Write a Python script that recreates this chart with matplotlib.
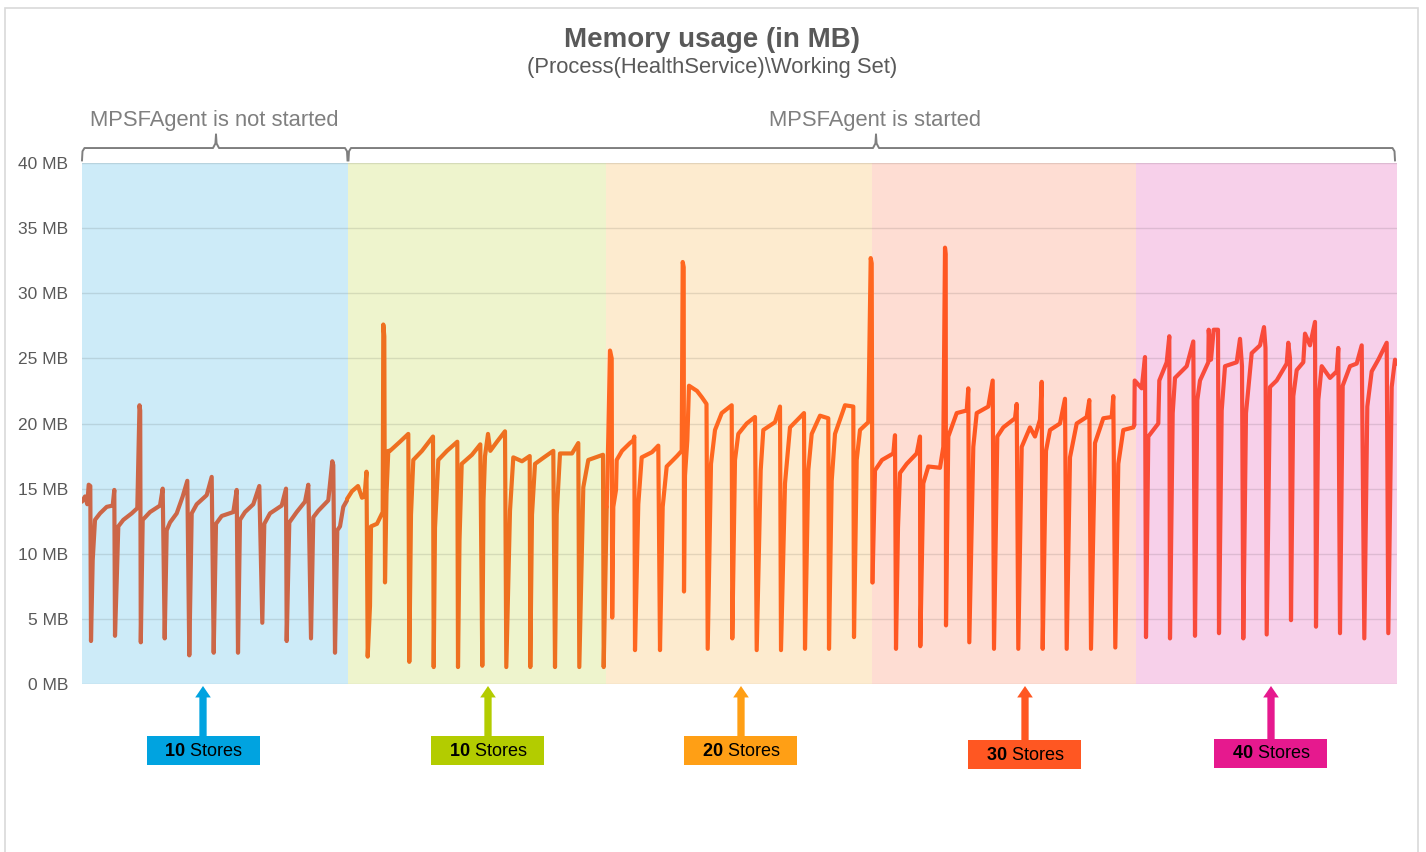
import matplotlib
matplotlib.use("Agg")
import matplotlib.pyplot as plt
from matplotlib.patches import Rectangle
from matplotlib.transforms import blended_transform_factory

plt.rcParams["font.family"] = ["Liberation Sans", "DejaVu Sans"]
plt.rcParams["mathtext.fontset"] = "custom"
plt.rcParams["mathtext.bf"] = "Liberation Sans:bold"
plt.rcParams["mathtext.rm"] = "Liberation Sans"

# sample index along the run, working set in MB, one pair of lists per phase
blue_t = [
    0, 3, 5.3, 6.7, 8.3,
    9, 10.7, 13, 18, 24.7, 30.7, 32.3,
    33, 34.7, 36.3, 41.3, 49.7, 55.3, 57.5, 58.2,
    58.8, 60.7, 68, 78, 80.7,
    82.7, 84.7, 88, 94.7, 100.7, 105.3,
    107.3, 109.7, 114.7, 124.7, 129.7,
    131.7, 134, 139.7, 151.3, 154.7,
    156, 158, 163, 171.3, 177.3,
    180.3, 182.3, 188, 199.7, 204,
    204.7, 207.3, 214.7, 223, 226.3,
    229, 231.3, 236.3, 246.3, 250.3, 251.3,
    253, 255.3, 258, 261.3, 265,
]
blue_mb = [
    14.0, 14.4, 13.8, 15.3, 15.2,
    3.3, 9.5, 12.6, 13.1, 13.6, 13.7, 14.9,
    3.7, 7.9, 12.1, 12.6, 13.1, 13.5, 21.4, 21.0,
    3.2, 12.6, 13.2, 13.7, 15.0,
    3.5, 11.8, 12.4, 13.1, 14.4, 15.6,
    2.2, 13.1, 13.8, 14.5, 15.9,
    2.4, 12.3, 12.9, 13.2, 14.9,
    2.4, 12.6, 13.2, 13.8, 15.2,
    4.7, 12.3, 13.1, 13.7, 15.0,
    3.3, 12.4, 13.2, 14.0, 15.3,
    3.5, 12.8, 13.3, 14.1, 17.1, 16.8,
    2.4, 11.8, 12.1, 13.6, 14.1,
]

green_t = [
    265, 270, 276, 280, 282.5, 284.5,
    285.7, 288, 289, 295, 300.7, 301.3, 302.3,
    303, 304.5, 306.3, 308, 318, 326.3,
    327.3, 329, 331.3, 340, 351,
    351.7, 353, 356.3, 365, 375.3,
    376, 377.5, 379.7, 390, 398.3,
    400.3, 401.5, 403, 406, 408.3, 415, 423,
    424.3, 428, 431.3, 440, 447.7,
    448.3, 450, 453, 462, 471.3,
    473, 474.7, 478, 490, 496.3,
    497.3, 501.3, 506.3, 521,
    521.7, 524.7,
]
green_mb = [
    14.2, 14.8, 15.2, 14.3, 14.4, 16.3,
    2.1, 6.0, 12.1, 12.3, 13.2, 27.6, 26.7,
    7.8, 14.6, 17.9, 17.9, 18.6, 19.2,
    1.7, 13.0, 17.2, 17.9, 19.0,
    1.3, 12.0, 17.2, 17.9, 18.6,
    1.3, 11.0, 16.9, 17.6, 18.4,
    1.4, 14.1, 17.5, 19.2, 17.9, 18.6, 19.4,
    1.3, 13.3, 17.4, 17.1, 17.5,
    1.3, 13.0, 16.9, 17.4, 17.9,
    1.3, 13.0, 17.7, 17.7, 18.5,
    1.3, 15.1, 17.2, 17.6,
    1.3, 13.6,
]

peach_t = [
    524.7, 526.3, 528, 529.7,
    530.2, 531.3, 534, 534.7, 540, 548, 551.3, 552.3,
    553, 556.3, 559.7, 570, 576.3,
    578, 580.7, 584.7, 595, 599.7, 600.7, 601.7,
    602, 603, 605.3, 607, 615, 620, 624.5,
    625.7, 629, 633, 639.7, 649.7,
    650.3, 653, 656.3, 664.7, 673,
    674.7, 678.7, 681.3, 693, 698,
    699, 703, 708, 722,
    723, 726.3, 729.7, 738, 746.3,
    747, 749.7, 753, 763, 771.3,
    772, 774.7, 778, 786.3, 788.7, 789.7,
    790.5,
]
peach_mb = [
    13.6, 19.0, 25.6, 25.0,
    5.1, 13.6, 14.9, 17.2, 17.9, 18.5, 18.7, 19.0,
    2.6, 13.8, 17.4, 17.8, 18.3,
    2.6, 13.6, 16.7, 17.5, 17.9, 32.4, 32.0,
    7.1, 16.0, 18.7, 22.9, 22.5, 22.0, 21.5,
    2.7, 16.9, 19.5, 20.8, 21.4,
    3.5, 17.2, 19.2, 20.0, 20.5,
    2.6, 16.4, 19.5, 20.1, 21.3,
    2.6, 15.4, 19.7, 20.8,
    2.7, 16.4, 19.2, 20.6, 20.4,
    2.7, 15.6, 19.2, 21.4, 21.3,
    3.6, 17.2, 19.5, 20.1, 32.7, 32.3,
    7.8,
]

salmon_t = [
    790.5, 793, 800, 811.3, 813,
    814, 816, 818, 824.7, 834.7, 838,
    838.3, 841.3, 846.3, 858, 861.3, 863, 863.7,
    864, 866.3, 874.7, 884.7, 886.3,
    887.3, 891.3, 894.7, 906.3, 910.7,
    912, 915.3, 921.3, 933, 934.7,
    936.3, 939.7, 948, 953, 958, 959.7,
    960.7, 964, 968, 978, 983,
    984.7, 988, 994.7, 1004.7, 1007.3,
    1009, 1013, 1021.3, 1029.7, 1031.3,
    1033.3, 1036.3, 1041.3, 1051.3, 1052.3,
]
salmon_mb = [
    7.8, 16.4, 17.2, 17.7, 19.1,
    2.7, 12.0, 16.2, 16.9, 17.7, 19.0,
    2.9, 15.4, 16.7, 16.6, 18.2, 33.5, 33.0,
    4.5, 19.0, 20.8, 21.0, 22.7,
    3.2, 18.2, 20.8, 21.3, 23.3,
    2.7, 19.0, 19.7, 20.4, 21.5,
    2.7, 18.2, 19.7, 19.0, 20.3, 23.2,
    2.7, 17.9, 19.5, 20.0, 21.9,
    2.7, 17.4, 20.0, 20.5, 21.8,
    2.7, 18.5, 20.4, 20.5, 22.1,
    2.8, 16.9, 19.5, 19.7, 19.9,
]

pink_t = [
    1052.3, 1052.7, 1059.7, 1063,
    1064, 1066.3, 1076.3, 1077.3, 1084.7, 1087.3,
    1088, 1090.7, 1093, 1104.7, 1111.3,
    1113, 1115.3, 1118, 1126.3, 1126.7, 1129, 1131.7, 1136,
    1137, 1139.7, 1143, 1154.7, 1158, 1160,
    1161.3, 1164, 1169.7, 1178, 1182, 1183.5,
    1184.7, 1188, 1194.7, 1204.7, 1206.3, 1208,
    1209, 1211.3, 1214.7, 1221.3, 1223, 1228, 1233,
    1234, 1236.3, 1239.7, 1248, 1254.7, 1256.3,
    1258, 1260.7, 1268, 1274.7, 1279.7,
    1282.3, 1285.3, 1289.7, 1296.3, 1304.7,
    1306.3, 1309.7, 1313, 1315,
]
pink_mb = [
    19.9, 23.3, 22.7, 25.1,
    3.6, 19.0, 20.0, 23.3, 24.7, 26.7,
    3.5, 20.8, 23.5, 24.4, 26.3,
    3.7, 21.8, 23.3, 24.7, 27.2, 24.9, 27.2, 27.2,
    3.9, 21.0, 24.4, 24.7, 26.5, 24.4,
    3.5, 20.8, 25.4, 26.0, 27.4, 25.8,
    3.8, 22.8, 23.3, 24.6, 26.2, 25.0,
    4.9, 22.1, 24.1, 24.7, 26.9, 26.0, 27.8,
    4.4, 21.8, 24.4, 23.5, 24.0, 25.8,
    3.9, 22.9, 24.4, 24.6, 26.0,
    3.5, 21.3, 24.0, 24.9, 26.2,
    3.9, 22.8, 24.9, 24.6,
]

phase_edges = [0, 266, 524, 790, 1054, 1315]
phase_bg = ["#CDEBF8", "#EEF4CD", "#FDEBCF", "#FEDDD3", "#F7D0EA"]
line_colors = ["#CC6647", "#EE7020", "#FF6720", "#FF5722", "#F94B3B"]
store_counts = ["10", "10", "20", "30", "40"]
store_colors = ["#00A3E0", "#B3CC00", "#FF9F15", "#FF5722", "#E6198E"]

W, H = 1426, 852
fig = plt.figure(figsize=(W / 100, H / 100), dpi=100)
ax = fig.add_axes([82 / W, 1 - 684 / H, (1397 - 82) / W, (684 - 163) / H])

for i, c in enumerate(phase_bg):
    ax.axvspan(phase_edges[i], phase_edges[i + 1], color=c, lw=0, zorder=0)

series = [(blue_t, blue_mb), (green_t, green_mb), (peach_t, peach_mb),
          (salmon_t, salmon_mb), (pink_t, pink_mb)]
for (t, mb), c in zip(series, line_colors):
    ax.plot(t, mb, color=c, lw=3.0, solid_joinstyle="round", solid_capstyle="round", zorder=3)

ax.set_xlim(0, 1315)
ax.set_ylim(0, 40)
ax.set_yticks(range(0, 41, 5))
ax.set_yticklabels([f"{v} MB" for v in range(0, 41, 5)])
ax.set_xticks([])
ax.tick_params(axis="y", length=0, labelsize=12.5, labelcolor="#595959", pad=10)
ax.set_axisbelow(True)
ax.grid(axis="y", color="black", alpha=0.1, lw=1)
for s in ax.spines.values():
    s.set_visible(False)

# braces over the two run phases
def brace(x0, x1, xc):
    xs = [x0, x0 + 0.5, x0 + 2.5, xc - 3, xc - 0.6, xc, xc + 0.6, xc + 3, x1 - 2.5, x1 - 0.5, x1]
    ys = [40.2, 40.9, 41.15, 41.15, 41.5, 42.2, 41.5, 41.15, 41.15, 40.9, 40.2]
    ax.plot(xs, ys, color="#7F7F7F", lw=1.4, clip_on=False, zorder=4)

brace(0, 265.5, 134)
brace(266.5, 1313, 794)
ax.text(132, 43.3, "MPSFAgent is not started", ha="center", va="center",
        fontsize=15.8, color="#7F7F7F", clip_on=False)
ax.text(793, 43.3, "MPSFAgent is started", ha="center", va="center",
        fontsize=15.8, color="#7F7F7F", clip_on=False)

fig.text(712 / W, 1 - 40 / H, "Memory usage (in MB)", ha="center", va="center",
         fontsize=20, fontweight="bold", color="#595959")
fig.text(712 / W, 1 - 68 / H, "(Process(HealthService)\\Working Set)", ha="center", va="center",
         fontsize=15.8, color="#595959")

# store count call-outs below the plot
trans = blended_transform_factory(ax.transData, fig.transFigure)
arrow_x = [121, 406, 659, 943, 1189]
box_top = [736, 736, 736, 740, 739]
for x, top, n, c in zip(arrow_x, box_top, store_counts, store_colors):
    ax.annotate("", xy=(x, 1 - 686 / H), xycoords=trans, xytext=(x, 1 - top / H), textcoords=trans,
                arrowprops=dict(arrowstyle="simple,head_length=0.55,head_width=0.75,tail_width=0.35",
                                mutation_scale=15, fc=c, ec="none", shrinkA=0, shrinkB=0),
                annotation_clip=False)
    ax.add_patch(Rectangle((x - 56.5, 1 - (top + 29) / H), 113, 29 / H, transform=trans,
                           fc=c, ec="none", clip_on=False, zorder=5))
    ax.text(x, 1 - (top + 15) / H, rf"$\mathbf{{{n}}}$ Stores", transform=trans,
            ha="center", va="center", fontsize=13, color="black", zorder=6)

fig.add_artist(Rectangle((5 / W, -0.05), 1413 / W, 1.05 - 8 / H, transform=fig.transFigure,
                         fill=False, ec="#D9D9D9", lw=1.2))

fig.savefig("out.png", dpi=100)
